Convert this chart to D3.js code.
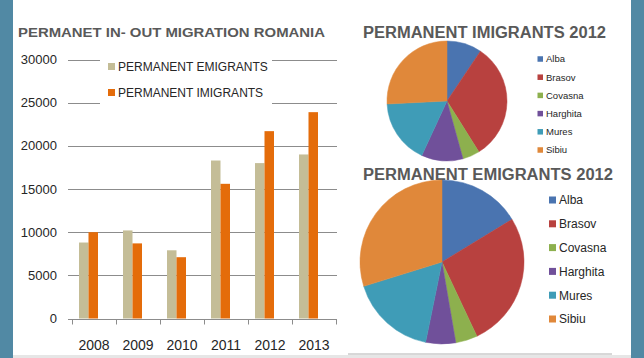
<!DOCTYPE html>
<html>
<head>
<meta charset="utf-8">
<script src="https://cdn.jsdelivr.net/npm/d3@7"></script>
<style>
  html, body { margin: 0; padding: 0; background: #ffffff; }
  svg { display: block; font-family: "Liberation Sans", Arial, sans-serif; }
</style>
</head>
<body>
<svg id="chart" width="644" height="358"></svg>
<script>
// ---- data ----
const years = ["2008", "2009", "2010", "2011", "2012", "2013"];
const seriesNames = ["PERMANENT EMIGRANTS", "PERMANENT IMIGRANTS"];
const emigrants = [8800, 10200, 7900, 18300, 18000, 19000];
const immigrants = [10000, 8700, 7100, 15600, 21700, 23900];
const yTicks = [0, 5000, 10000, 15000, 20000, 25000, 30000];

const counties = ["Alba", "Brasov", "Covasna", "Harghita", "Mures", "Sibiu"];
const immigrants2012 = [9.4, 31.7, 4.6, 11.2, 17.3, 25.8];
const emigrants2012 = [16.3, 26.7, 4.3, 5.9, 17.0, 29.8];

// ---- styles ----
const barColors = ["#c4bd97", "#e46c0a"];
const pieColors = ["#4a74b0", "#b8413f", "#8db04e", "#70509a", "#3f9cb7", "#e0883a"];
const frameBlue = "#5189a4";

const svg = d3.select("#chart");

// frame
svg.append("rect").attr("x", 0).attr("y", 0).attr("width", 644).attr("height", 358).attr("fill", "#ffffff");
svg.append("rect").attr("x", 0).attr("y", 0).attr("width", 13).attr("height", 358).attr("fill", frameBlue);
svg.append("rect").attr("x", 631).attr("y", 0).attr("width", 13).attr("height", 358).attr("fill", frameBlue);
svg.append("rect").attr("x", 13).attr("y", 355).attr("width", 618).attr("height", 3).attr("fill", "#e6e6e6");
svg.append("line").attr("x1", 348).attr("x2", 612).attr("y1", 354).attr("y2", 354)
  .attr("stroke", "#b0b0b0").attr("stroke-width", 1);

// ---- bar chart ----
svg.append("text").attr("x", 18).attr("y", 36.5)
  .attr("font-size", 13.5).attr("font-weight", "bold").attr("fill", "#595959")
  .attr("textLength", 307).attr("lengthAdjust", "spacingAndGlyphs")
  .text("PERMANET IN- OUT MIGRATION ROMANIA");

const y = d3.scaleLinear().domain([0, 30000]).range([318.5, 59.5]);
const x0 = d3.scaleBand().domain(years).range([72, 336]);
const x1 = d3.scaleBand().domain(seriesNames).range([7, 26]);

// gridlines
svg.append("g").selectAll("line").data(yTicks.filter(d => d > 0)).join("line")
  .attr("x1", 68).attr("x2", 337)
  .attr("y1", d => Math.round(y(d)) + 0.5).attr("y2", d => Math.round(y(d)) + 0.5)
  .attr("stroke", "#8c8c8c").attr("stroke-width", 1);

// y labels
svg.append("g").selectAll("text").data(yTicks).join("text")
  .attr("x", 57).attr("y", d => y(d) + 4.5)
  .attr("text-anchor", "end").attr("font-size", 13).attr("fill", "#262626")
  .text(d => d);

// x axis
const xAxis = d3.axisBottom(x0).tickSize(0).tickPadding(0);
const gx = svg.append("g").attr("transform", "translate(0,319.5)").call(xAxis);
gx.select(".domain").attr("stroke", "#8c8c8c").attr("d", "M68,0H337");
gx.selectAll(".tick text").attr("font-size", 14).attr("fill", "#262626")
  .attr("font-family", "Liberation Sans, Arial, sans-serif")
  .attr("dy", 0).attr("y", 30);
// category boundary ticks
const bounds = years.map(d => x0(d)).concat([x0.range()[1]]);
svg.append("g").selectAll("line").data(bounds).join("line")
  .attr("x1", d => Math.round(d) + 0.5).attr("x2", d => Math.round(d) + 0.5)
  .attr("y1", 319.5).attr("y2", 324.5)
  .attr("stroke", "#8c8c8c").attr("stroke-width", 1);

// bars
const barData = [];
years.forEach((yr, i) => {
  barData.push({ year: yr, s: seriesNames[0], v: emigrants[i], c: barColors[0] });
  barData.push({ year: yr, s: seriesNames[1], v: immigrants[i], c: barColors[1] });
});
svg.append("g").selectAll("rect").data(barData).join("rect")
  .attr("x", d => x0(d.year) + x1(d.s))
  .attr("width", x1.bandwidth())
  .attr("y", d => y(d.v))
  .attr("height", d => y(0) - y(d.v))
  .attr("fill", d => d.c);

// legend
svg.append("rect").attr("x", 100).attr("y", 52).attr("width", 172).attr("height", 56).attr("fill", "#ffffff");
const leg = svg.append("g").selectAll("g").data(seriesNames).join("g")
  .attr("transform", (d, i) => `translate(108,${67 + i * 26})`);
leg.append("rect").attr("x", 0).attr("y", -4).attr("width", 7).attr("height", 7)
  .attr("fill", (d, i) => barColors[i]);
leg.append("text").attr("x", 10).attr("y", 4.3).attr("font-size", 12).attr("fill", "#262626")
  .text(d => d);

// ---- pies ----
function drawPie(values, cx, cy, r, title, titleX, titleY, titleW, legX, legY, legStep, legSize, legFont) {
  svg.append("text").attr("x", titleX).attr("y", titleY)
    .attr("font-size", 16).attr("font-weight", "bold").attr("fill", "#595959")
    .attr("textLength", titleW).attr("lengthAdjust", "spacingAndGlyphs")
    .text(title);
  const pie = d3.pie().sort(null).value(d => d.v);
  const arc = d3.arc().innerRadius(0).outerRadius(r);
  const data = counties.map((c, i) => ({ name: c, v: values[i], color: pieColors[i] }));
  svg.append("g").attr("transform", `translate(${cx},${cy})`)
    .selectAll("path").data(pie(data)).join("path")
    .attr("d", arc).attr("fill", d => d.data.color)
    .attr("stroke", d => d.data.color).attr("stroke-width", 0.5);
  const lg = svg.append("g").selectAll("g").data(data).join("g")
    .attr("transform", (d, i) => `translate(${legX},${legY + i * legStep})`);
  lg.append("rect").attr("x", 0).attr("y", -legSize / 2).attr("width", legSize).attr("height", legSize)
    .attr("fill", d => d.color);
  lg.append("text").attr("x", legSize + 3).attr("y", legFont * 0.36)
    .attr("font-size", legFont).attr("fill", "#262626").text(d => d.name);
}

drawPie(immigrants2012, 447, 101, 60, "PERMANENT IMIGRANTS 2012", 363, 37.5, 243,
  537.5, 59, 18.2, 5.5, 9.5);
drawPie(emigrants2012, 442, 262, 82, "PERMANENT EMIGRANTS 2012", 363, 180, 250,
  549, 200, 23.8, 7, 12);
</script>
</body>
</html>
